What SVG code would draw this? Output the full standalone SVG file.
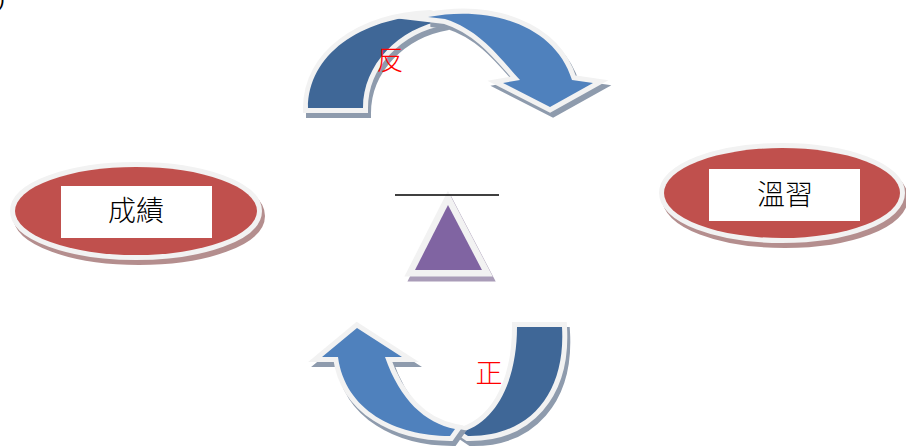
<svg xmlns="http://www.w3.org/2000/svg" width="906" height="448" viewBox="0 0 906 448">
<style>
.bord{stroke:#F2F2F2;stroke-width:10;stroke-linejoin:miter;stroke-miterlimit:10;paint-order:stroke}
.shb{fill:#8E9BAD;stroke:#8E9BAD;stroke-width:10;stroke-linejoin:miter}
.shr{fill:#B48E8E;stroke:#B48E8E;stroke-width:10}
.dark{fill:#3F6797}
.light{fill:#4F81BD}
.red{fill:#C0504D}
.box{fill:#FFFFFF}
.lbl{font-family:"Noto Sans CJK TC","Noto Sans CJK SC",sans-serif;font-size:28px;font-weight:300;fill:#000;text-anchor:middle}
.rlbl{font-family:"Noto Sans CJK TC","Noto Sans CJK SC",serif;font-size:27px;font-weight:300;fill:#FF0000;text-anchor:middle}
</style>
<defs>
<path id="topBack" d="M308,108 C308,55 360,18 430,15 L445,20 C398,28 363,65 363,108 Z"/>
<path id="topFront" d="M428,17 C490,5 555,25 572,80 L593,83 L550,107 L503,83 L520,80 C500,58 480,30 445,19 Z"/>
<path id="botBack" d="M517,327 L562,327 C566,395 528,437 468,436 L462,432 C500,420 517,375 517,327 Z"/>
<path id="botFront" d="M357,328 L402,357 L385,357 C400,400 425,423 455,429 L450,436 C395,436 345,410 338,357 L322,357 Z"/>
</defs>
<text x="-2" y="6" style="font-family:'Liberation Sans',sans-serif;font-size:20px;fill:#000">)</text>
<g id="connectors">
<g id="arrow-top">
<use href="#topBack" class="shb" transform="translate(3,5)"/>
<use href="#topBack" class="dark bord"/>
<use href="#topFront" class="shb" transform="translate(3,5)"/>
<use href="#topFront" class="light bord"/>
</g>
<g id="arrow-bottom">
<use href="#botBack" class="shb" transform="translate(3,5)"/>
<use href="#botBack" class="dark bord"/>
<use href="#botFront" class="shb" transform="translate(3,5)"/>
<use href="#botFront" class="light bord"/>
</g>
<text class="rlbl" x="390" y="70">反</text>
<text class="rlbl" x="489" y="383">正</text>
</g>
<g id="node-chengji">
<ellipse cx="139" cy="216" rx="121" ry="44" class="shr"/>
<ellipse cx="136" cy="211" rx="121" ry="44" class="red bord"/>
<rect x="61" y="186" width="151" height="52" class="box"/>
<text class="lbl" x="136" y="221">成績</text>
</g>
<g id="node-wenxi">
<ellipse cx="785" cy="198" rx="118" ry="45" class="shr"/>
<ellipse cx="782" cy="193" rx="118" ry="45" class="red bord"/>
<rect x="709" y="169" width="151" height="52" class="box"/>
<text class="lbl" x="785" y="205">溫習</text>
</g>
<g id="node-triangle">
<polygon points="451,210 485,275 418,275" style="fill:#A99CB8;stroke:#A99CB8;stroke-width:13;stroke-linejoin:miter;stroke-miterlimit:10"/>
<polygon points="448,205 482,270 415,270" style="fill:#8064A2;stroke:#F2F2F2;stroke-width:13;stroke-linejoin:miter;stroke-miterlimit:10;paint-order:stroke"/>
<line x1="395" y1="195" x2="499" y2="195" style="stroke:#000;stroke-width:1.5"/>
</g>
</svg>
